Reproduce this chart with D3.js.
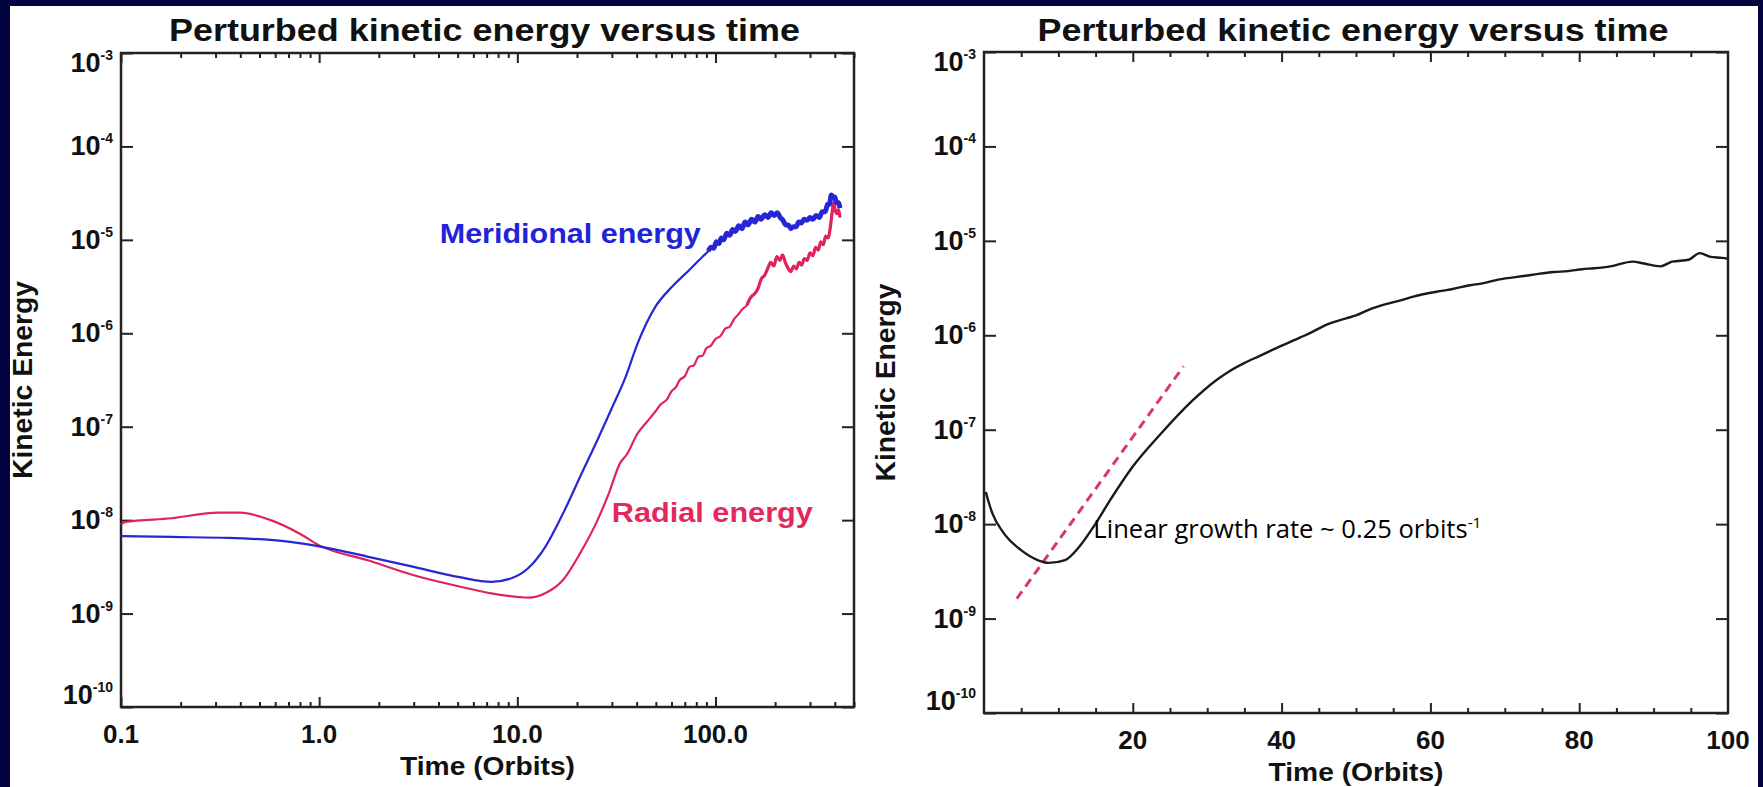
<!DOCTYPE html>
<html>
<head>
<meta charset="utf-8">
<script src="https://cdn.jsdelivr.net/npm/d3@7"></script>
<style>
html, body { margin: 0; padding: 0; background: #02033f; }
svg { display: block; }
</style>
</head>
<body>
<svg id="chart" width="1763" height="787"></svg>
<script>
// Left panel: time in orbits (log axis), energies kept as log10 values
const meridionalT = [0.1, 0.18, 0.35, 0.7, 1.0, 1.75, 3.0, 5.1, 7.4, 9.4, 11.4, 13.9, 17, 20.8, 25.4, 30, 35, 40.6, 49.6, 60.5,
    74, 86, 92, 95, 98, 101, 104, 107, 110, 114, 118, 122, 126, 131, 136, 141, 146, 152, 158, 164,
    170, 177, 184, 191, 198, 205, 212, 219, 226, 233, 240, 247, 255, 263, 271, 280, 290, 300, 310, 322,
    334, 346, 358, 368, 376, 384, 392, 400, 408, 416, 425];
const meridionalLogE = [-8.17, -8.18, -8.19, -8.23, -8.28, -8.39, -8.50, -8.61, -8.66, -8.62, -8.51, -8.28, -7.93, -7.53, -7.14, -6.80, -6.48, -6.10, -5.72, -5.50,
    -5.32, -5.18, -5.12, -5.08, -5.09, -5.02, -5.04, -4.98, -5.00, -4.93, -4.95, -4.89, -4.91, -4.85, -4.88, -4.81, -4.84, -4.78, -4.81, -4.75,
    -4.78, -4.73, -4.76, -4.71, -4.74, -4.71, -4.76, -4.79, -4.84, -4.84, -4.88, -4.86, -4.86, -4.81, -4.82, -4.78, -4.79, -4.76, -4.78, -4.74,
    -4.76, -4.70, -4.70, -4.62, -4.62, -4.52, -4.54, -4.54, -4.60, -4.60, -4.66];

const radialT = [0.1, 0.105, 0.18, 0.31, 0.4, 0.57, 0.79, 1.0, 1.76, 3.0, 5.1, 8.2, 11.4, 13.9, 17, 20.8, 25.4, 29, 33, 35.6,
    40.5, 45, 49.6, 53, 56.8, 60, 63, 66, 70, 74, 78, 82, 86, 90, 95, 100, 106, 112, 118, 124,
    130, 137, 144, 150, 157, 164, 170, 177, 184, 190, 197, 204, 211, 218, 225, 232, 240, 248, 256, 264,
    272, 281, 290, 300, 310, 320, 330, 340, 350, 360, 370, 380, 388, 395, 402, 410, 418, 425];
const radialLogE = [-8.05, -8.02, -7.98, -7.92, -7.92, -8.00, -8.14, -8.27, -8.43, -8.59, -8.71, -8.80, -8.83, -8.78, -8.64, -8.35, -8.00, -7.71, -7.39, -7.30,
    -7.07, -6.95, -6.84, -6.76, -6.71, -6.62, -6.58, -6.50, -6.46, -6.36, -6.34, -6.25, -6.24, -6.16, -6.13, -6.06, -6.03, -5.95, -5.93, -5.85,
    -5.80, -5.74, -5.70, -5.62, -5.58, -5.52, -5.42, -5.38, -5.30, -5.24, -5.28, -5.18, -5.22, -5.16, -5.24, -5.30, -5.34, -5.28, -5.31, -5.24,
    -5.27, -5.20, -5.22, -5.14, -5.17, -5.08, -5.11, -5.02, -5.05, -4.96, -4.98, -4.86, -4.70, -4.60, -4.68, -4.72, -4.68, -4.76];

// Right panel: linear time axis
const totalT = [0.25, 0.6, 1.1, 2.6, 4.9, 7.2, 8.7, 10.9, 12.8, 14.7, 17, 20, 23.8, 27.9, 31.3, 33, 35.1, 37, 38.9, 42.6,
    44, 45.7, 48.7, 50, 51.7, 54, 56, 57.7, 61.5, 63, 65.3, 67, 69.1, 72.8, 74.5, 76.6, 78.5, 80.4, 82, 84.2,
    87.2, 88.7, 90.9, 92.5, 94.7, 96.2, 97.7, 99.2, 100];
const totalLogE = [-7.66, -7.76, -7.88, -8.09, -8.27, -8.38, -8.41, -8.38, -8.24, -8.03, -7.74, -7.39, -7.04, -6.70, -6.47, -6.38, -6.29, -6.22, -6.15, -6.02,
    -5.97, -5.90, -5.82, -5.79, -5.73, -5.67, -5.63, -5.59, -5.53, -5.51, -5.47, -5.45, -5.41, -5.37, -5.35, -5.33, -5.32, -5.30, -5.29, -5.27,
    -5.22, -5.24, -5.27, -5.22, -5.20, -5.13, -5.17, -5.18, -5.19];

// linear growth fit (dashed)
const growthT = [4.4, 26.8];
const growthLogE = [-8.79, -6.33];

const yDecades = [-10, -9, -8, -7, -6, -5, -4, -3];
const leftXMajor = [0.1, 1, 10, 100];
const leftXLabels = ["0.1", "1.0", "10.0", "100.0"];
const rightXMajor = [20, 40, 60, 80];
const rightXLabels = [20, 40, 60, 80, 100];

const titleText = "Perturbed kinetic energy versus time";
const yTitle = "Kinetic Energy";
const xTitle = "Time (Orbits)";

// ---- layout
const svg = d3.select("#chart");
const boldFont = "'Liberation Sans', Arial, Helvetica, sans-serif";
const ink = "#222";

svg.append("rect").attr("x", 10).attr("y", 6).attr("width", 1748).attr("height", 781).attr("fill", "#fff");

const boxL = {x0: 121, x1: 854, y0: 53, y1: 707};
const boxR = {x0: 984, x1: 1728, y0: 52, y1: 713};

let xL = d3.scaleLog().domain([0.1, 500]).range([boxL.x0, boxL.x1]);
let yL = d3.scaleLog().domain([1e-10, 1e-3]).range([boxL.y1, boxL.y0]);
let xR = d3.scaleLinear().domain([0, 100]).range([boxR.x0, boxR.x1]);
let yR = d3.scaleLog().domain([1e-10, 1e-3]).range([boxR.y1, boxR.y0]);

let leftXMinor = [];
[0.1, 1, 10, 100].forEach(d => {
    for (let k = 2; k <= 9; k++) if (d * k <= 500) leftXMinor.push(d * k);
});
let rightXMinor = d3.range(5, 100, 5).filter(v => v % 20 !== 0);

function noDomain(g) { g.select(".domain").remove(); }

function drawPanel(box, x, y, xMajor, xMinor, xTicks, xTickText, xLabelDy) {
    let g = svg.append("g").attr("color", ink);

    // ticks on all four sides, pointing inward
    let tickSets = [[xMinor, 5], [xMajor, 10]];
    tickSets.forEach(([vals, len]) => {
        g.append("g").attr("transform", `translate(0,${box.y1})`)
            .call(d3.axisBottom(x).tickValues(vals).tickSize(-len).tickFormat("")).call(noDomain);
        g.append("g").attr("transform", `translate(0,${box.y0})`)
            .call(d3.axisTop(x).tickValues(vals).tickSize(-len).tickFormat("")).call(noDomain);
    });
    let decadeVals = yDecades.map(e => Math.pow(10, e));
    g.append("g").attr("transform", `translate(${box.x0},0)`)
        .call(d3.axisLeft(y).tickValues(decadeVals).tickSize(-12).tickFormat("")).call(noDomain);
    g.append("g").attr("transform", `translate(${box.x1},0)`)
        .call(d3.axisRight(y).tickValues(decadeVals).tickSize(-12).tickFormat("")).call(noDomain);
    g.selectAll(".tick line").attr("stroke-width", 2);

    g.append("rect")
        .attr("x", box.x0).attr("y", box.y0)
        .attr("width", box.x1 - box.x0).attr("height", box.y1 - box.y0)
        .attr("fill", "none").attr("stroke", ink).attr("stroke-width", 2.5);

    // y tick labels 10^n
    yDecades.forEach(e => {
        let ty = y(Math.pow(10, e));
        let shift = 9;
        if (e === -3) shift = 19;
        if (e === -10) shift = -3;
        let t = g.append("text")
            .attr("x", box.x0 - 8).attr("y", ty + shift)
            .attr("text-anchor", "end")
            .attr("font-family", boldFont).attr("font-weight", "bold")
            .attr("font-size", 27).attr("fill", "#111");
        t.append("tspan").text("10");
        t.append("tspan").attr("font-size", 14).attr("dy", -12).text(String(e));
    });

    // x tick labels
    xTicks.forEach((v, i) => {
        g.append("text")
            .attr("x", x(v)).attr("y", box.y1 + xLabelDy)
            .attr("text-anchor", "middle")
            .attr("font-family", boldFont).attr("font-weight", "bold")
            .attr("font-size", 26).attr("fill", "#111")
            .text(xTickText[i]);
    });

    let cx = (box.x0 + box.x1) / 2;
    let cy = (box.y0 + box.y1) / 2;

    g.append("text")
        .attr("x", cx - 3).attr("y", 41)
        .attr("text-anchor", "middle")
        .attr("font-family", boldFont).attr("font-weight", "bold")
        .attr("font-size", 32).attr("fill", "#111")
        .attr("textLength", 631).attr("lengthAdjust", "spacingAndGlyphs")
        .text(titleText);

    g.append("text")
        .attr("x", cx).attr("y", box.y1 + 68)
        .attr("text-anchor", "middle")
        .attr("font-family", boldFont).attr("font-weight", "bold")
        .attr("font-size", 26).attr("fill", "#111")
        .attr("textLength", 175).attr("lengthAdjust", "spacingAndGlyphs")
        .text(xTitle);

    g.append("text")
        .attr("transform", `translate(${box.x0 - 89},${cy}) rotate(-90)`)
        .attr("text-anchor", "middle")
        .attr("font-family", boldFont).attr("font-weight", "bold")
        .attr("font-size", 27).attr("fill", "#111")
        .attr("textLength", 198).attr("lengthAdjust", "spacingAndGlyphs")
        .text(yTitle);

    return g;
}

drawPanel(boxL, xL, yL, leftXMajor, leftXMinor, leftXMajor, leftXLabels, 36);
drawPanel(boxR, xR, yR, rightXMajor, rightXMinor, rightXLabels, rightXLabels.map(String), 36);

// ---- curves
function series(ts, logs) { return ts.map((t, i) => [t, Math.pow(10, logs[i])]); }

let lineL = d3.line().x(d => xL(d[0])).y(d => yL(d[1])).curve(d3.curveMonotoneX);
let lineR = d3.line().x(d => xR(d[0])).y(d => yR(d[1])).curve(d3.curveMonotoneX);

let radial = series(radialT, radialLogE);
let meridional = series(meridionalT, meridionalLogE);

svg.append("path").datum(radial)
    .attr("d", lineL).attr("fill", "none")
    .attr("stroke", "#e0245a").attr("stroke-width", 2.2).attr("stroke-linejoin", "round");
// noisy late-time part is drawn heavier, like the scattered band in the plot
svg.append("path").datum(radial.filter(d => d[0] >= 140))
    .attr("d", lineL).attr("fill", "none")
    .attr("stroke", "#e0245a").attr("stroke-width", 3.2).attr("stroke-linejoin", "round");

svg.append("path").datum(meridional)
    .attr("d", lineL).attr("fill", "none")
    .attr("stroke", "#2626d4").attr("stroke-width", 2.2).attr("stroke-linejoin", "round");
svg.append("path").datum(meridional.filter(d => d[0] >= 92))
    .attr("d", lineL).attr("fill", "none")
    .attr("stroke", "#2626d4").attr("stroke-width", 5).attr("stroke-linejoin", "round");

svg.append("path").datum(series(growthT, growthLogE))
    .attr("d", lineR).attr("fill", "none")
    .attr("stroke", "#d8386a").attr("stroke-width", 3)
    .attr("stroke-dasharray", "9,6");
svg.append("path").datum(series(totalT, totalLogE))
    .attr("d", lineR).attr("fill", "none")
    .attr("stroke", "#1a1a1a").attr("stroke-width", 2.4).attr("stroke-linejoin", "round");

// ---- annotations
svg.append("text")
    .attr("x", xL(4.06)).attr("y", yL(Math.pow(10, -5.03)))
    .attr("font-family", boldFont).attr("font-weight", "bold")
    .attr("font-size", 27).attr("fill", "#2222d8")
    .attr("textLength", 261).attr("lengthAdjust", "spacingAndGlyphs")
    .text("Meridional energy");

svg.append("text")
    .attr("x", xL(30)).attr("y", yL(Math.pow(10, -8.02)))
    .attr("font-family", boldFont).attr("font-weight", "bold")
    .attr("font-size", 27).attr("fill", "#e3285c")
    .attr("textLength", 201).attr("lengthAdjust", "spacingAndGlyphs")
    .text("Radial energy");

let note = svg.append("text")
    .attr("x", xR(14.7)).attr("y", yR(Math.pow(10, -8.15)))
    .attr("font-family", "'Open Sans', 'Noto Sans', sans-serif")
    .attr("font-size", 25).attr("fill", "#000")
    .attr("textLength", 388).attr("lengthAdjust", "spacingAndGlyphs");
note.append("tspan").text("Linear growth rate ~ 0.25 orbits");
note.append("tspan").attr("font-size", 15).attr("dy", -10).text("-1");
</script>
</body>
</html>
